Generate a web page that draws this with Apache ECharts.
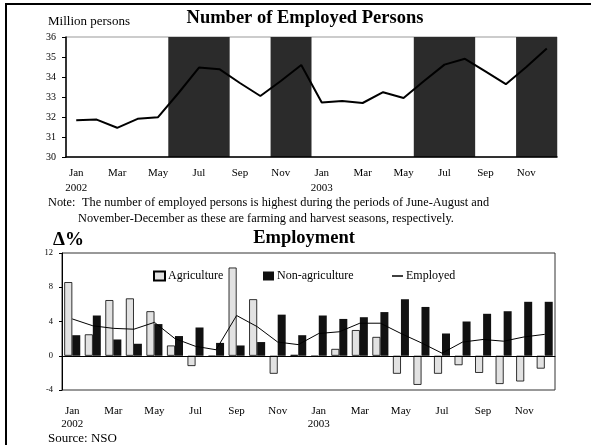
<!DOCTYPE html>
<html>
<head>
<meta charset="utf-8">
<script src="https://cdn.jsdelivr.net/npm/echarts@6/dist/echarts.min.js"></script>
<style>
html, body { margin: 0; padding: 0; background: #fff; }
#wrap { position: relative; width: 591px; height: 445px; overflow: hidden; }
#frame { position: absolute; left: 5px; top: 3px; width: 700px; height: 600px;
  border-left: 2px solid #000; border-top: 2px solid #000; }
#chart { position: absolute; left: 0; top: 0; width: 591px; height: 445px; }
</style>
</head>
<body>
<div id="wrap">
  <div id="frame"></div>
  <div id="chart"></div>
</div>
<script>
// categories
var months = ['Jan', 'Feb', 'Mar', 'Apr', 'May', 'Jun', 'Jul', 'Aug', 'Sep', 'Oct', 'Nov', 'Dec'];
var years = ['2002', '2003'];
var categories = [];
years.forEach(function (y) {
    months.forEach(function (m) { categories.push(m + ' ' + y); });
});

// farming / harvest months (shaded)
var seasonMonths = ['Jun', 'Jul', 'Aug', 'Nov', 'Dec'];

// number of employed persons, million
var employedMillion = [31.84, 31.87, 31.46, 31.91, 31.99, 33.2, 34.47, 34.39, 33.7, 33.05, 33.8, 34.6,
    32.72, 32.8, 32.7, 33.24, 32.95, 33.8, 34.62, 34.91, 34.28, 33.64, 34.5, 35.43];

// change, %
var agriChange = [8.6, 2.5, 6.5, 6.7, 5.2, 1.2, -1.2, -0.1, 10.3, 6.6, -2.1, 0.1,
    -0.1, 0.8, 3.0, 2.2, -2.1, -3.4, -2.1, -1.1, -2.0, -3.3, -3.0, -1.5];
var nonAgriChange = [2.4, 4.7, 1.9, 1.4, 3.7, 2.3, 3.3, 1.5, 1.2, 1.6, 4.8, 2.4,
    4.7, 4.3, 4.5, 5.1, 6.6, 5.7, 2.6, 4.0, 4.9, 5.2, 6.3, 6.3];
var employedChange = [4.3, 3.5, 3.2, 3.1, 3.9, 2.0, 1.1, 0.7, 4.7, 3.4, 1.6, 1.3,
    2.6, 2.8, 3.8, 3.8, 2.6, 1.5, 0.3, 1.6, 1.9, 1.7, 2.2, 2.5];

var topMin = 30, topMax = 36;
var serif = "'Liberation Serif', 'Times New Roman', serif";

// shaded runs of season months -> markArea on a hidden index axis
var bandAreas = [];
var runStart = -1;
categories.forEach(function (c, i) {
    var inSeason = seasonMonths.indexOf(c.split(' ')[0]) >= 0;
    if (inSeason && runStart < 0) runStart = i;
    if ((!inSeason || i === categories.length - 1) && runStart >= 0) {
        var end = inSeason ? i + 1 : i;
        bandAreas.push([{ xAxis: runStart }, { xAxis: end }]);
        runStart = -1;
    }
});

function monthLabel(v) {
    var p = v.split(' ');
    return p[0] === 'Jan' ? p[0] + '\n' + p[1] : p[0];
}

var chart = echarts.init(document.getElementById('chart'), null, { renderer: 'canvas' });

var legendText = { fontSize: 12, fontFamily: serif, color: '#000', padding: [0, 0, 0, -2] };

var option = {
    animation: false,
    textStyle: { fontFamily: serif, color: '#000' },
    grid: [
        { left: 66, right: 34, top: 37, bottom: 288, show: true, borderColor: '#999', borderWidth: 1 },
        { left: 62, right: 36, top: 253, bottom: 55, show: true, borderColor: '#333', borderWidth: 1 }
    ],
    xAxis: [
        {
            type: 'category', gridIndex: 0, data: categories, z: 10,
            axisLine: { lineStyle: { color: '#000', width: 1.5 } },
            axisTick: { interval: 1, length: 4, lineStyle: { color: '#000' } },
            axisLabel: { interval: 1, formatter: monthLabel, fontSize: 11, lineHeight: 15, margin: 9, color: '#000', fontFamily: serif },
            splitLine: { show: false }
        },
        {
            type: 'category', gridIndex: 1, data: categories, z: 10, position: 'bottom',
            axisLine: { onZero: true, lineStyle: { color: '#000', width: 1 } },
            axisTick: { interval: 1, length: 3, lineStyle: { color: '#000' } },
            axisLabel: { show: false },
            splitLine: { show: false }
        },
        {
            type: 'category', gridIndex: 1, data: categories, position: 'bottom',
            axisLine: { show: false, onZero: false },
            axisTick: { show: false },
            axisLabel: { interval: 1, formatter: monthLabel, fontSize: 11, lineHeight: 13, margin: 15, color: '#000', fontFamily: serif },
            splitLine: { show: false }
        },
        {
            // hidden index axis for the shaded bands
            type: 'value', gridIndex: 0, min: 0, max: categories.length, show: false
        }
    ],
    yAxis: [
        {
            type: 'value', gridIndex: 0, min: topMin, max: topMax, interval: 1, z: 10,
            axisLine: { show: true, lineStyle: { color: '#000', width: 1.5 } },
            axisTick: { show: true, length: 4, lineStyle: { color: '#000' } },
            axisLabel: { fontSize: 10, margin: 10, color: '#000', fontFamily: serif },
            splitLine: { show: false }
        },
        {
            type: 'value', gridIndex: 1, min: -4, max: 12, interval: 4, z: 10,
            axisLine: { show: true, lineStyle: { color: '#000', width: 1 } },
            axisTick: { show: true, length: 3, lineStyle: { color: '#000' } },
            axisLabel: { fontSize: 8.5, margin: 9, color: '#000', fontFamily: serif },
            splitLine: { show: false }
        }
    ],
    legend: [
        {
            left: 148, top: 265, itemWidth: 11, itemHeight: 9,
            data: [{ name: 'Agriculture', icon: 'rect' }],
            textStyle: legendText
        },
        {
            left: 258, top: 265, itemWidth: 11, itemHeight: 9,
            data: [{ name: 'Non-agriculture', icon: 'rect' }],
            textStyle: legendText
        },
        {
            left: 387, top: 265, itemWidth: 11, itemHeight: 1.5,
            data: [{ name: 'Employed', icon: 'rect' }],
            textStyle: legendText
        }
    ],
    series: [
        // shaded seasons
        {
            name: 'season', type: 'line', xAxisIndex: 3, yAxisIndex: 0,
            data: [], silent: true, z: 1,
            markArea: {
                silent: true,
                itemStyle: { color: '#2b2b2b' },
                data: bandAreas
            }
        },
        {
            name: 'Employed persons', type: 'line', xAxisIndex: 0, yAxisIndex: 0,
            data: employedMillion, symbol: 'none', z: 5,
            lineStyle: { color: '#000', width: 2 }
        },
        {
            name: 'Agriculture', type: 'bar', xAxisIndex: 1, yAxisIndex: 1,
            data: agriChange, barWidth: 8, barGap: '0%',
            itemStyle: { color: '#e2e2e2', borderColor: '#000', borderWidth: 0.8 }
        },
        {
            name: 'Non-agriculture', type: 'bar', xAxisIndex: 1, yAxisIndex: 1,
            data: nonAgriChange, barWidth: 8, barGap: '0%',
            itemStyle: { color: '#111' }
        },
        {
            name: 'Employed', type: 'line', xAxisIndex: 1, yAxisIndex: 1,
            data: employedChange, symbol: 'none', z: 5,
            itemStyle: { color: '#000' },
            lineStyle: { color: '#000', width: 1 }
        }
    ],
    graphic: [
        { type: 'text', x: 48, y: 22, style: { text: 'Million persons', font: '13px ' + serif, fill: '#000', verticalAlign: 'middle' } },
        { type: 'text', x: 305, y: 18, style: { text: 'Number of Employed Persons', font: 'bold 18.5px ' + serif, fill: '#000', align: 'center', verticalAlign: 'middle' } },
        { type: 'text', x: 48, y: 203, style: { text: 'Note:', font: '12.3px ' + serif, fill: '#000', verticalAlign: 'middle' } },
        { type: 'text', x: 82, y: 203, style: { text: 'The number of employed persons is highest during the periods of June-August and', font: '12.3px ' + serif, fill: '#000', verticalAlign: 'middle' } },
        { type: 'text', x: 78, y: 219, style: { text: 'November-December as these are farming and harvest seasons, respectively.', font: '12.3px ' + serif, fill: '#000', verticalAlign: 'middle' } },
        { type: 'text', x: 53, y: 240, style: { text: 'Δ%', font: 'bold 19px ' + serif, fill: '#000', verticalAlign: 'middle' } },
        { type: 'text', x: 304, y: 238, style: { text: 'Employment', font: 'bold 18.5px ' + serif, fill: '#000', align: 'center', verticalAlign: 'middle' } },
        { type: 'text', x: 48, y: 439, style: { text: 'Source: NSO', font: '13px ' + serif, fill: '#000', verticalAlign: 'middle' } }
    ]
};

chart.setOption(option);
</script>
</body>
</html>
